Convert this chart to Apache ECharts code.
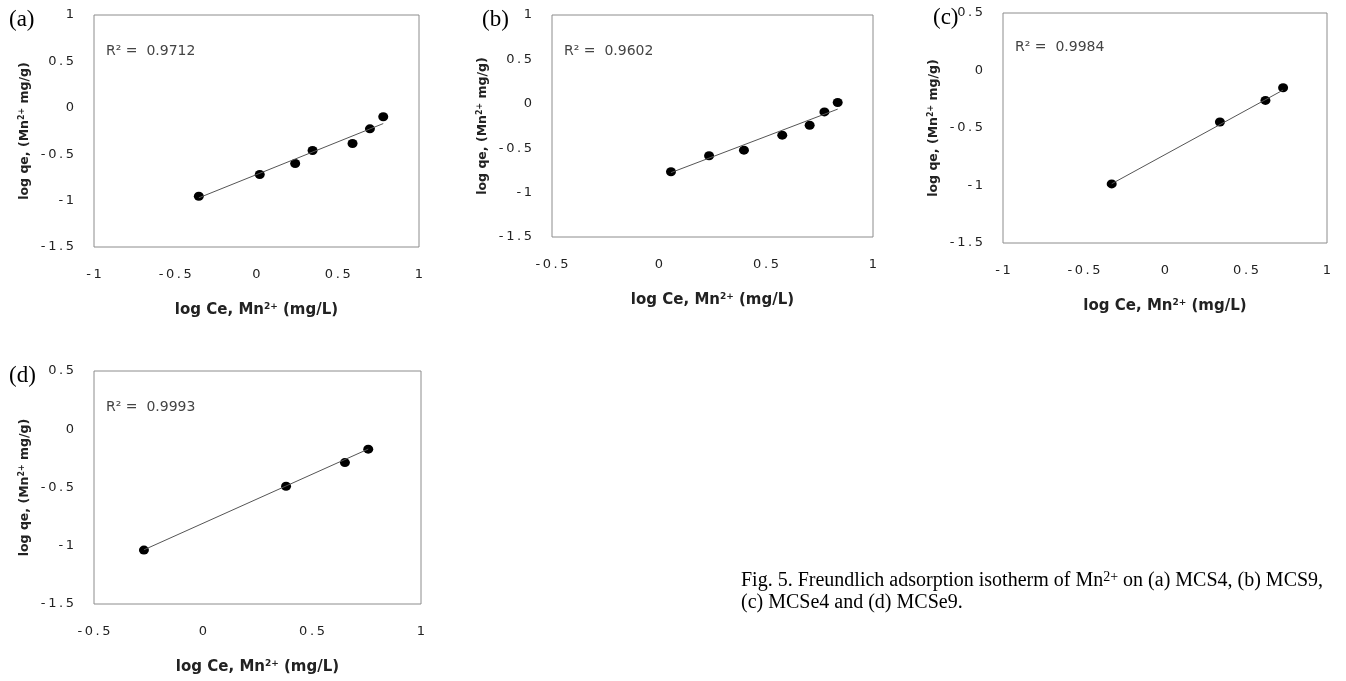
<!DOCTYPE html>
<html>
<head>
<meta charset="utf-8">
<script src="https://cdn.jsdelivr.net/npm/echarts@6/dist/echarts.min.js"></script>
<style>
  html, body { margin: 0; padding: 0; background: #fff; }
  #chart { width: 1346px; height: 681px; }
</style>
</head>
<body>
<div id="chart"></div>
<script>
// (a) MCS4
var xA = [-0.355, 0.02, 0.238, 0.345, 0.591, 0.698, 0.78];
var yA = [-0.953, -0.719, -0.6, -0.46, -0.385, -0.227, -0.097];
var fitA = [[-0.355, -0.97], [0.78, -0.17]];
// (b) MCS9
var xB = [0.056, 0.234, 0.397, 0.576, 0.704, 0.773, 0.835];
var yB = [-0.765, -0.585, -0.522, -0.353, -0.241, -0.091, 0.014];
var fitB = [[0.056, -0.775], [0.835, -0.06]];
// (c) MCSe4
var xC = [-0.329, 0.339, 0.62, 0.729];
var yC = [-0.986, -0.448, -0.26, -0.15];
var fitC = [[-0.329, -0.985], [0.729, -0.17]];
// (d) MCSe9
var xD = [-0.271, 0.381, 0.651, 0.758];
var yD = [-1.037, -0.489, -0.286, -0.171];
var fitD = [[-0.271, -1.035], [0.758, -0.17]];

var r2Labels = ["R\u00b2 =  0.9712", "R\u00b2 =  0.9602", "R\u00b2 =  0.9984", "R\u00b2 =  0.9993"];
var panelLabels = ["(a)", "(b)", "(c)", "(d)"];
var xRanges = [[-1, 1], [-0.5, 1], [-1, 1], [-0.5, 1]];
var yRanges = [[-1.5, 1], [-1.5, 1], [-1.5, 0.5], [-1.5, 0.5]];
var xName = "log Ce, Mn{sup|2+} (mg/L)";
var yName = "log qe, (Mn{sup|2+} mg/g)";

(function () {
  var myChart = echarts.init(document.getElementById("chart"));

  //每个小图的位置
  var grids = [
    { left: 94, top: 15, width: 325, height: 232 },
    { left: 552, top: 15, width: 321, height: 222 },
    { left: 1003, top: 13, width: 324, height: 230 },
    { left: 94, top: 371, width: 327, height: 233 },
  ];
  var xs = [xA, xB, xC, xD];
  var ys = [yA, yB, yC, yD];
  var fits = [fitA, fitB, fitC, fitD];

  //刻度文字字间距稍宽
  var spaced = function (v) {
    return String(v).split("").join("\u2009");
  };

  var supX = { sup: { fontSize: 9, fontWeight: "bold", verticalAlign: "top", lineHeight: 16 } };
  var supY = { sup: { fontSize: 8, fontWeight: "bold", verticalAlign: "top", lineHeight: 14 } };

  var option = { animation: false, grid: [], xAxis: [], yAxis: [], series: [], graphic: [] };

  grids.forEach(function (g, i) {
    option.grid.push({
      left: g.left, top: g.top, width: g.width, height: g.height,
      show: true, borderColor: "#8c8c8c", borderWidth: 1, backgroundColor: "#fff",
    });
    option.xAxis.push({
      type: "value", gridIndex: i,
      min: xRanges[i][0], max: xRanges[i][1], interval: 0.5,
      axisLine: { show: false }, axisTick: { show: false }, splitLine: { show: false },
      axisLabel: { color: "#222", fontSize: 13, fontFamily: "DejaVu Sans", margin: 21, formatter: spaced },
      name: xName, nameLocation: "middle", nameGap: 55,
      nameTextStyle: { color: "#222", fontSize: 15, fontWeight: "bold", fontFamily: "DejaVu Sans", rich: supX },
    });
    option.yAxis.push({
      type: "value", gridIndex: i,
      min: yRanges[i][0], max: yRanges[i][1], interval: 0.5,
      axisLine: { show: false }, axisTick: { show: false }, splitLine: { show: false },
      axisLabel: { color: "#222", fontSize: 13, fontFamily: "DejaVu Sans", margin: 20, formatter: spaced },
      name: yName, nameLocation: "middle", nameGap: 62,
      nameTextStyle: { color: "#222", fontSize: 12.5, fontWeight: "bold", fontFamily: "DejaVu Sans", rich: supY },
    });
    //趋势线
    option.series.push({
      type: "line", xAxisIndex: i, yAxisIndex: i,
      data: fits[i], symbol: "none",
      lineStyle: { color: "#555", width: 1 },
    });
    //散点
    option.series.push({
      type: "scatter", xAxisIndex: i, yAxisIndex: i,
      data: xs[i].map(function (x, k) { return [x, ys[i][k]]; }),
      symbol: "circle", symbolSize: [10, 9],
      itemStyle: { color: "#000", opacity: 1 },
    });
    option.graphic.push({
      type: "text",
      left: g.left + 12, top: g.top + (i === 2 ? 27 : 29),
      style: { text: r2Labels[i], fill: "#444", font: "14px DejaVu Sans" },
    });
  });

  //面板标记 (a)(b)(c)(d)
  var labelPos = [[9, 8], [482, 8], [933, 6], [9, 364]];
  panelLabels.forEach(function (t, i) {
    option.graphic.push({
      type: "text", left: labelPos[i][0], top: labelPos[i][1],
      style: { text: t, fill: "#000", font: "23px Liberation Serif" },
    });
  });

  //图注
  option.graphic.push({
    type: "text", left: 741, top: 570,
    style: {
      text: "Fig. 5. Freundlich adsorption isotherm of Mn{sup|2+} on (a) MCS4, (b) MCS9,\n(c) MCSe4 and (d) MCSe9.",
      fill: "#000", font: "20px Liberation Serif", lineHeight: 22,
      rich: {
        sup: { fontSize: 14, fontFamily: "Liberation Serif", verticalAlign: "top", lineHeight: 22 },
      },
    },
  });

  myChart.setOption(option);
})();
</script>
</body>
</html>
